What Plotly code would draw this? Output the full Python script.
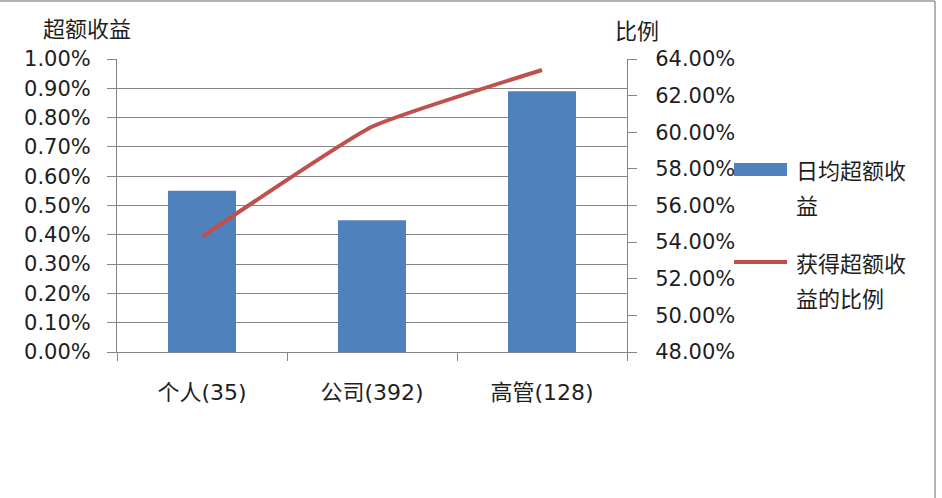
import plotly.graph_objects as go

# data
categories = ["个人(35)", "公司(392)", "高管(128)"]
excess_return = [0.0055, 0.0045, 0.0089]      # 日均超额收益 (left axis)
positive_ratio = [0.543, 0.603, 0.634]        # 获得超额收益的比例 (right axis)

left_ticks = [i / 1000 for i in range(0, 11)]
right_ticks = [0.48, 0.50, 0.52, 0.54, 0.56, 0.58, 0.60, 0.62, 0.64]

BLUE = "#4F81BD"
RED = "#C0504D"
GRID = "#868686"
TEXT = "#1e1e1e"
FONT = "DejaVu Sans, Noto Sans CJK SC, sans-serif"
CJK = "Noto Sans CJK SC, sans-serif"

fig = go.Figure()

fig.add_trace(go.Bar(
    x=categories, y=excess_return,
    marker=dict(color=BLUE, line_width=0),
    name="日均超额收益", yaxis="y",
))

fig.add_trace(go.Scatter(
    x=categories, y=positive_ratio,
    mode="lines", line=dict(color=RED, width=4, shape="spline", smoothing=0.4),
    name="获得超额收益的比例", yaxis="y2",
))

# helpers to place decorations in pixel terms relative to the plot area
L, R, T, B, W, H = 117, 315, 59, 146, 942, 498
PW, PH = W - L - R, H - T - B


def px(x):
    return (x - L) / PW


def py(y):
    return (H - B - y) / PH


shapes = [
    # outer chart frame (top and right edges visible)
    dict(type="line", xref="paper", yref="paper", x0=px(0), x1=px(935), y0=py(1), y1=py(1),
         line=dict(color="#9a9a9a", width=1.5)),
    dict(type="line", xref="paper", yref="paper", x0=px(935), x1=px(935), y0=py(1), y1=py(498),
         line=dict(color="#9a9a9a", width=1.5)),
    # legend swatches
    dict(type="rect", xref="paper", yref="paper", x0=px(734), x1=px(787), y0=py(176), y1=py(163),
         fillcolor=BLUE, line_width=0),
    dict(type="line", xref="paper", yref="paper", x0=px(734), x1=px(787), y0=py(262), y1=py(262),
         line=dict(color=RED, width=4)),
]

annotations = [
    dict(text="超额收益", x=px(41), y=py(27), xanchor="left", yanchor="middle"),
    dict(text="比例", x=px(613), y=py(29), xanchor="left", yanchor="middle"),
    dict(text="日均超额收", x=px(794), y=py(169), xanchor="left", yanchor="middle"),
    dict(text="益", x=px(794), y=py(204), xanchor="left", yanchor="middle"),
    dict(text="获得超额收", x=px(794), y=py(262), xanchor="left", yanchor="middle"),
    dict(text="益的比例", x=px(794), y=py(297), xanchor="left", yanchor="middle"),
]
for a in annotations:
    a.update(xref="paper", yref="paper", showarrow=False, font=dict(family=CJK, size=22, color=TEXT))

fig.update_layout(
    width=W, height=H,
    margin=dict(l=L, r=R, t=T, b=B, pad=0),
    paper_bgcolor="white", plot_bgcolor="white",
    showlegend=False,
    bargap=0.6,
    font=dict(family=FONT, size=21, color=TEXT),
    shapes=shapes, annotations=annotations,
    xaxis=dict(
        type="category", tickson="boundaries", ticks="outside", ticklen=8,
        tickcolor=GRID, showline=True, linecolor=GRID, linewidth=1, showgrid=False,
        ticklabelstandoff=21, tickfont=dict(family=FONT, size=22),
    ),
    yaxis=dict(
        range=[0, 0.01], tickvals=left_ticks, tickformat=".2%",
        ticks="outside", ticklen=9, tickcolor=GRID,
        showline=True, linecolor=GRID, linewidth=1,
        showgrid=True, gridcolor=GRID, gridwidth=1, zeroline=False,
        ticklabelstandoff=12,
    ),
    yaxis2=dict(
        range=[0.48, 0.64], tickvals=right_ticks, tickformat=".2%",
        overlaying="y", side="right",
        ticks="outside", ticklen=9, tickcolor=GRID,
        showline=True, linecolor=GRID, linewidth=1,
        showgrid=False, zeroline=False, ticklabelstandoff=14,
    ),
)

# drop the page's default body margin so the figure sits at the window origin
fig.write_html("out.html", config={"displayModeBar": False},
               post_script="document.body.style.margin='0';")
